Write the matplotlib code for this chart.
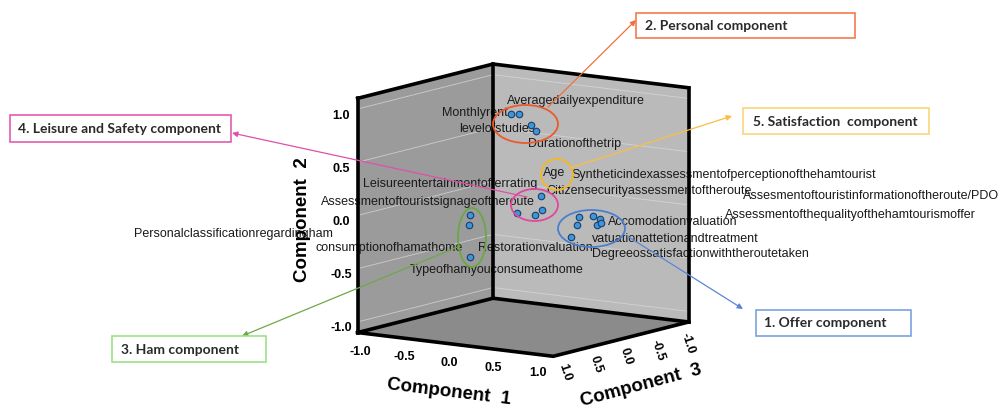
import matplotlib
matplotlib.use("Agg")
import matplotlib.pyplot as plt
import numpy as np
from matplotlib.patches import Ellipse, Rectangle, FancyArrowPatch
from mpl_toolkits.mplot3d import proj3d

plt.rcParams['font.family'] = ['Liberation Sans', 'DejaVu Sans']
plt.rcParams['axes.unicode_minus'] = False

# variables and their loadings on the three components
names = ['Monthlyrent', 'Averagedailyexpenditure', 'Durationofthetrip', 'levelofstudies',
         'Personalclassificationregardingham', 'consumptionofhamathome', 'Typeofhamyouconsumeathome',
         'Citizensecurityassessmentoftheroute', 'Assessmentoftouristsignageoftheroute',
         'Leisureentertainmentofferrating', 'Age',
         'Syntheticindexassessmentofperceptionofthehamtourist', 'Restorationvaluation',
         'Degreeossatisfactionwiththeroutetaken', 'Assesmentoftouristinformationoftheroute/PDO',
         'Assessmentofthequalityofthehamtourismoffer', 'Accomodationvaluation',
         'vatuationattetionandtreatment']
comp1 = [-0.10, -0.01, 0.09, 0.14, -0.08, -0.09, -0.08, 0.34, 0.07, 0.27, 0.35,
         0.70, 0.68, 0.61, 0.86, 0.93, 0.95, 0.90]
comp2 = [0.90, 0.91, 0.81, 0.76, 0.06, -0.04, -0.34, 0.20, 0.01, 0.01, 0.07,
         0.02, -0.06, -0.18, 0.05, 0.03, -0.01, -0.03]
comp3 = [0.05, 0.05, 0.00, 0.00, 0.75, 0.75, 0.75, 0.20, 0.20, 0.20, 0.20,
         0.10, 0.10, 0.10, 0.10, 0.10, 0.10, 0.10]

# label placement next to each point (pixels, y up) and anchor side
label_dx = [-3, -12, -3, 0, -137, -6, -60, 5, 18, 3, 1, -8, 15, 21, 150, 125, 7, -5]
label_dy = [1, 13, -19, 2, -19, -23, -13, 5, 11, 31, 37, 42, -23, -17, 20, 4, 1, -14]
label_ha = ['right', 'left', 'left', 'right', 'right', 'right', 'left', 'left', 'right',
            'right', 'left', 'left', 'right', 'left', 'left', 'left', 'left', 'left']

ticks = [-1.0, -0.5, 0.0, 0.5, 1.0]
lim = 1.1

# hand drawn groupings (pixel positions on the page)
group_text = ['2. Personal component', '5. Satisfaction  component', '4. Leisure and Safety component',
              '3. Ham component', '1. Offer component']
ell_color = ['#ea5a2c', '#f5b820', '#e2469f', '#6aa843', '#4a7fd0']
box_color = ['#f47a4e', '#fcd57a', '#e45bb0', '#9be28a', '#7aa2e2']
arrow_color = ['#f0703e', '#f8c040', '#e050a8', '#6fa84a', '#5a86d6']
ell_geom = [(525.5, 124, 65, 38), (557, 174.5, 32, 31), (534.5, 205, 47, 32),
            (472, 237.5, 28, 59), (591.5, 228.5, 67, 37)]
arrow_geom = [((548, 107), (636, 20)), ((570, 168), (732, 116)), ((527, 197), (232, 133)),
              ((460, 246), (242, 336)), ((627, 236), (743, 309))]
box_geom = [(636, 13, 855, 38), (743, 108, 929, 134), (10, 115, 231, 142),
            (112, 336, 266, 362), (756, 310, 911, 336)]
text_pos = [(645, 26), (753, 122), (18, 129), (121, 350), (764, 323)]

# axis titles: text, centre (pixels), angle
axis_titles = [('Component  1', (449, 392), -7), ('Component  3', (641, 386), 15),
               ('Component  2', (303, 220), 90)]

W, H = 1003, 412
fig = plt.figure(figsize=(W / 100, H / 100), dpi=100)


def fx(x):
    return x / W


def fy(y):
    return 1 - y / H


side = 380
cx, cy = 518, 215.3
ax = fig.add_axes([fx(cx - side / 2), fy(cy + side / 2), side / W, side / H],
                  projection='3d', proj_type='ortho', computed_zorder=False)
ax.view_init(elev=10.1, azim=34.7)
ax.set_box_aspect((1, 1, 1), zoom=400 / side)
ax.set_xlim(-lim, lim)
ax.set_ylim(-lim, lim)
ax.set_zlim(-lim, lim)

ax.xaxis.set_pane_color('#bababa')
ax.yaxis.set_pane_color('#9b9b9b')
ax.zaxis.set_pane_color('#8b8b8b')
for a in (ax.xaxis, ax.yaxis, ax.zaxis):
    a._axinfo['tick']['inward_factor'] = 0
    a._axinfo['tick']['outward_factor'] = 0
ax.xaxis._axinfo['grid']['color'] = (1, 1, 1, 0)
ax.yaxis._axinfo['grid']['color'] = (1, 1, 1, 0)
ax.zaxis._axinfo['grid']['color'] = (0.85, 0.85, 0.85, 0.8)
ax.zaxis._axinfo['grid']['linewidth'] = 0.6

ax.set_xticks(ticks)
ax.set_yticks(ticks)
ax.set_zticks(ticks)
ax.xaxis.set_ticklabels(['%.1f' % t for t in ticks], fontsize=9, fontweight='bold', rotation=-72)
ax.yaxis.set_ticklabels(['%.1f' % t for t in ticks], fontsize=9, fontweight='bold')
ax.zaxis.set_ticklabels(['%.1f' % t for t in ticks], fontsize=9, fontweight='bold')
ax.tick_params(axis='x', pad=-4)
ax.tick_params(axis='y', pad=-1.5)
ax.tick_params(axis='z', pad=-1)

# thick box outline
for x0, y0 in [(-lim, -lim), (lim, -lim), (-lim, lim)]:
    ax.plot([x0, x0], [y0, y0], [-lim, lim], color='black', lw=2.6, zorder=4)
for z0 in (-lim, lim):
    ax.plot([lim, -lim, -lim], [-lim, -lim, lim], [z0, z0, z0], color='black', lw=2.6, zorder=4)
ax.plot([lim, lim, -lim], [-lim, lim, lim], [-lim, -lim, -lim], color='black', lw=2.6, zorder=4)

# comp3 / comp1 on the floor, comp2 vertical
ax.scatter(comp3, comp1, comp2, s=22, c='#3d95dc', edgecolors='#1c3f66', linewidths=0.8,
           depthshade=False, zorder=5)

# point labels, anchored on the projected point positions
px, py, _ = proj3d.proj_transform(np.array(comp3), np.array(comp1), np.array(comp2), ax.get_proj())
for i, name in enumerate(names):
    ax.annotate(name, (px[i], py[i]), xytext=(label_dx[i], label_dy[i]), textcoords='offset pixels',
                ha=label_ha[i], va='center', fontsize=9, color='#1a1a1a', zorder=3)

for title, (tx, ty), rot in axis_titles:
    fig.text(fx(tx), fy(ty), title, ha='center', va='center', rotation=rot,
             rotation_mode='anchor', fontsize=13.5, fontweight='bold')

# group annotations
for i in range(len(group_text)):
    ex, ey, ew, eh = ell_geom[i]
    fig.add_artist(Ellipse((fx(ex), fy(ey)), ew / W, eh / H, transform=fig.transFigure,
                           fill=False, ec=ell_color[i], lw=1.3))
    (ax0, ay0), (ax1, ay1) = arrow_geom[i]
    fig.add_artist(FancyArrowPatch((fx(ax0), fy(ay0)), (fx(ax1), fy(ay1)), transform=fig.transFigure,
                                   arrowstyle='-|>', mutation_scale=8, color=arrow_color[i], lw=0.9,
                                   shrinkA=0, shrinkB=0))
    bx0, by0, bx1, by1 = box_geom[i]
    fig.add_artist(Rectangle((fx(bx0), fy(by1)), (bx1 - bx0) / W, (by1 - by0) / H,
                             transform=fig.transFigure, fill=True, fc='white', ec=box_color[i], lw=1.2))
    tx, ty = text_pos[i]
    fig.text(fx(tx), fy(ty), group_text[i], ha='left', va='center', fontsize=10,
             family='Lato', fontweight='bold', color='#2a2a2a')

fig.savefig('out.png', dpi=100)
